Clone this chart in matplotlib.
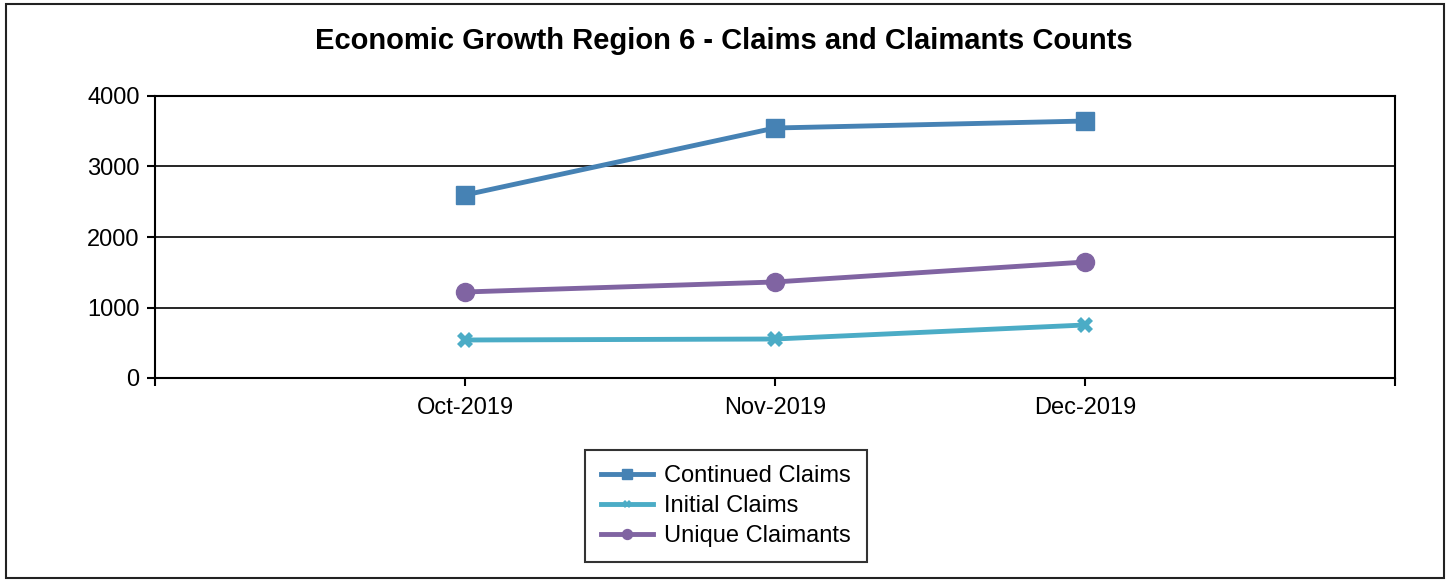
import matplotlib.pyplot as plt
from matplotlib.patches import Rectangle

plt.rcParams['font.family'] = ['Liberation Sans', 'DejaVu Sans']

# data
months = ['Oct-2019', 'Nov-2019', 'Dec-2019']
continued = [2596, 3546, 3645]
initial = [539, 553, 752]
unique = [1220, 1362, 1645]

fig = plt.figure(figsize=(14.47, 5.80), dpi=100)
ax = fig.add_axes([155/1447, 1 - 378/580, 1240/1447, 282/580])

x = [1, 2, 3]
ax.plot(x, continued, color='#4682B4', lw=3.5, marker='s', ms=13, label='Continued Claims')
ax.plot(x, initial, color='#4BACC6', lw=3.5, marker='X', ms=11, mew=0, label='Initial Claims')
ax.plot(x, unique, color='#8064A2', lw=3.5, marker='o', ms=13, label='Unique Claimants')

ax.set_xlim(0, 4)
ax.set_ylim(0, 4000)
ax.set_yticks([0, 1000, 2000, 3000, 4000])
ax.set_xticks([0, 1, 2, 3, 4])
ax.set_xticklabels(['', *months, ''])
ax.grid(axis='y', color='black', lw=1.2)
ax.set_axisbelow(True)
for s in ax.spines.values():
    s.set_linewidth(1.5)
ax.tick_params(axis='both', direction='out', length=6, width=1.5, labelsize=17, colors='black')
ax.tick_params(axis='x', pad=8)
ax.tick_params(axis='y', pad=5)

fig.text(0.5, 1 - 41/580, 'Economic Growth Region 6 - Claims and Claimants Counts',
         ha='center', va='center', fontsize=21, fontweight='bold')

leg = ax.legend(loc='center', bbox_to_anchor=(726/1447, 1 - 506/580), bbox_transform=fig.transFigure,
                fontsize=17, frameon=True, fancybox=False, edgecolor='black',
                handlelength=2.2, handletextpad=0.5, borderpad=0.65, labelspacing=0.33,
                markerscale=0.55)
leg.get_frame().set_linewidth(1.5)

fig.patches.append(Rectangle((6/1447, 2/580), 1438/1447, 574/580, transform=fig.transFigure,
                             fill=False, edgecolor='#222222', lw=1.5))

plt.savefig('out.png', dpi=100)
